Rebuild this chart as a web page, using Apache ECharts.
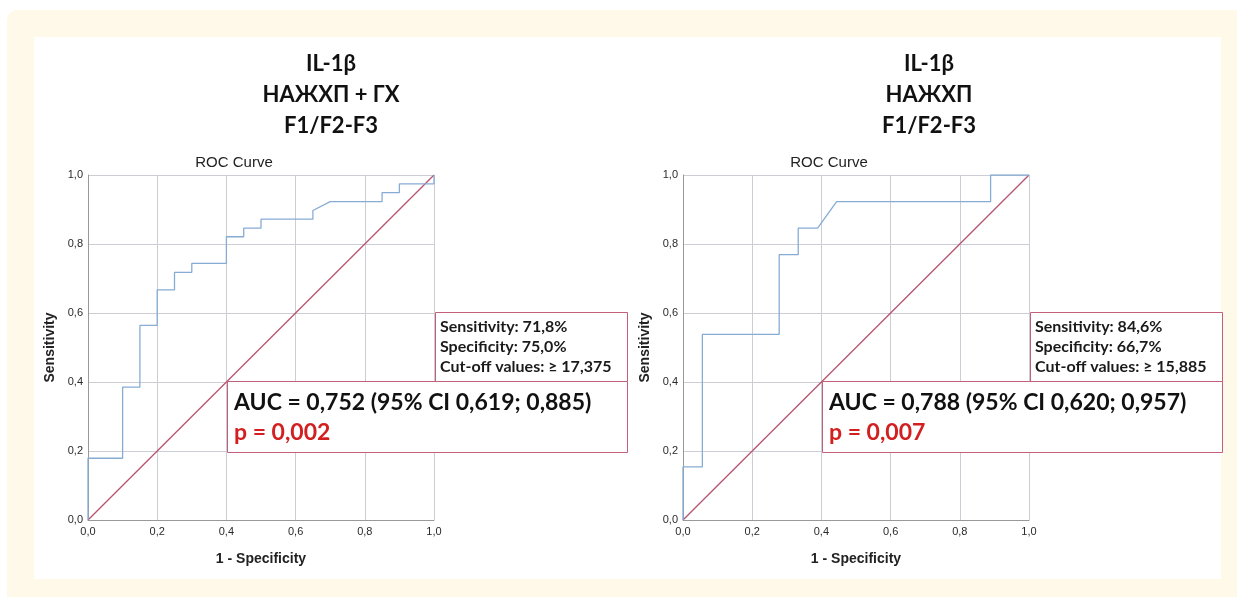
<!DOCTYPE html>
<html>
<head>
<meta charset="utf-8">
<script src="https://cdn.jsdelivr.net/npm/echarts@6/dist/echarts.min.js"></script>
<style>
html,body{margin:0;padding:0;background:#ffffff;}
#chart{width:1237px;height:597px;}
</style>
</head>
<body>
<div id="chart"></div>
<script>
// ---- data ----
const tickValues = [0, 0.2, 0.4, 0.6, 0.8, 1.0];
const leftTitle = ['IL-1β', 'НАЖХП + ГХ', 'F1/F2-F3'];
const rightTitle = ['IL-1β', 'НАЖХП', 'F1/F2-F3'];
const chartTitle = 'ROC Curve';
const xName = '1 - Specificity';
const yName = 'Sensitivity';

// Left ROC curve (1 - specificity, sensitivity)
const leftFpr = [0, 0, 0.1, 0.1, 0.15, 0.15, 0.2, 0.2, 0.25, 0.25, 0.3, 0.3, 0.4, 0.4, 0.45, 0.45, 0.5, 0.5, 0.65, 0.65, 0.7, 0.85, 0.85, 0.9, 0.9, 1.0, 1.0];
const leftTpr = [0, 0.179, 0.179, 0.385, 0.385, 0.564, 0.564, 0.667, 0.667, 0.718, 0.718, 0.744, 0.744, 0.821, 0.821, 0.846, 0.846, 0.872, 0.872, 0.897, 0.923, 0.923, 0.949, 0.949, 0.974, 0.974, 1.0];

// Right ROC curve
const rightFpr = [0, 0, 0.056, 0.056, 0.278, 0.278, 0.333, 0.333, 0.389, 0.444, 0.889, 0.889, 1.0];
const rightTpr = [0, 0.154, 0.154, 0.538, 0.538, 0.769, 0.769, 0.846, 0.846, 0.923, 0.923, 1.0, 1.0];

// Reference line
const refX = [0, 1];
const refY = [0, 1];

const leftStats = ['Sensitivity: 71,8%', 'Specificity: 75,0%', 'Cut-off values: ≥ 17,375'];
const leftAuc = 'AUC = 0,752 (95% CI 0,619; 0,885)';
const leftP = 'p = 0,002';
const rightStats = ['Sensitivity: 84,6%', 'Specificity: 66,7%', 'Cut-off values: ≥ 15,885'];
const rightAuc = 'AUC = 0,788 (95% CI 0,620; 0,957)';
const rightP = 'p = 0,007';

// ---- build ----
const zip = (xs, ys) => xs.map((x, i) => [x, ys[i]]);
const fmt = v => v.toFixed(1).replace('.', ',');

const gridColor = '#cdcdd5';
const axisColor = '#999999';
const rocColor = '#86acd4';
const refColor = '#b7546f';
const boxColor = '#c2607a';
const calibri = 'Lato, Carlito, "Noto Sans", sans-serif';
const arial = '"Liberation Sans", Arial, sans-serif';

function axisX(gi) {
  return {
    type: 'value', gridIndex: gi, min: 0, max: 1, interval: 0.2,
    name: xName, nameLocation: 'middle', nameGap: 32,
    nameTextStyle: {fontFamily: arial, fontWeight: 'bold', fontSize: 14, color: '#222'},
    axisLine: {show: true, lineStyle: {color: axisColor, width: 1}},
    axisTick: {show: false},
    axisLabel: {formatter: fmt, fontFamily: arial, fontSize: 11, color: '#2a2a2a', margin: 6},
    splitLine: {show: true, lineStyle: {color: gridColor, width: 1}}
  };
}
function axisY(gi) {
  return {
    type: 'value', gridIndex: gi, min: 0, max: 1, interval: 0.2,
    name: yName, nameLocation: 'middle', nameGap: 31,
    nameTextStyle: {fontFamily: arial, fontWeight: 'bold', fontSize: 14, color: '#222'},
    axisLine: {show: true, lineStyle: {color: axisColor, width: 1}},
    axisTick: {show: false},
    axisLabel: {formatter: fmt, fontFamily: arial, fontSize: 11, color: '#2a2a2a', margin: 5},
    splitLine: {show: true, lineStyle: {color: gridColor, width: 1}}
  };
}
function lineSeries(gi, data, color, z) {
  return {
    type: 'line', xAxisIndex: gi, yAxisIndex: gi, data: data,
    showSymbol: false, symbol: 'none', animation: false, z: z,
    lineStyle: {color: color, width: 1.3}
  };
}

function titleTexts(lines, cx) {
  return lines.map((t, i) => ({
    type: 'text', z: 50,
    style: {text: t, x: cx, y: 64 + i * 31, align: 'center', verticalAlign: 'middle',
      font: 'bold 22px ' + calibri, fill: '#111'}
  }));
}
function boxes(x0, stats, auc, p) {
  // x0 = pixel x of data 0.4 in this panel
  const sx = x0 + 208;
  const out = [];
  out.push({type: 'rect', z: 60, shape: {x: sx + 0.5, y: 312.5, width: 192, height: 69},
    style: {fill: '#fff', stroke: boxColor, lineWidth: 1}});
  stats.forEach((t, i) => out.push({type: 'text', z: 61,
    style: {text: t, x: sx + 5, y: 327 + i * 20, verticalAlign: 'middle',
      font: 'bold 16px ' + calibri, fill: '#1a1a1a'}}));
  out.push({type: 'rect', z: 60, shape: {x: x0 + 0.5, y: 381.5, width: 400, height: 71},
    style: {fill: '#fff', stroke: boxColor, lineWidth: 1}});
  out.push({type: 'text', z: 61, style: {text: auc, x: x0 + 7, y: 403, verticalAlign: 'middle',
    font: 'bold 23px ' + calibri, fill: '#111'}});
  out.push({type: 'text', z: 61, style: {text: p, x: x0 + 7, y: 433, verticalAlign: 'middle',
    font: 'bold 23px ' + calibri, fill: '#d21f1f'}});
  return out;
}

const graphics = [
  {type: 'rect', z: -10, shape: {x: 7, y: 10, width: 1250, height: 600, r: 10}, style: {fill: '#fef9e8'}},
  {type: 'rect', z: -9, shape: {x: 34, y: 37, width: 1187, height: 542}, style: {fill: '#ffffff'}},
  ...titleTexts(leftTitle, 331),
  ...titleTexts(rightTitle, 929),
  {type: 'text', z: 50, style: {text: chartTitle, x: 234, y: 163, align: 'center', verticalAlign: 'middle',
    font: '15px ' + arial, fill: '#222'}},
  {type: 'text', z: 50, style: {text: chartTitle, x: 829, y: 163, align: 'center', verticalAlign: 'middle',
    font: '15px ' + arial, fill: '#222'}},
  ...boxes(227, leftStats, leftAuc, leftP),
  ...boxes(822, rightStats, rightAuc, rightP)
];

const option = {
  backgroundColor: 'transparent',
  animation: false,
  grid: [
    {left: 88, top: 175, width: 346, height: 345, containLabel: false},
    {left: 683, top: 175, width: 346, height: 345, containLabel: false}
  ],
  xAxis: [axisX(0), axisX(1)],
  yAxis: [axisY(0), axisY(1)],
  series: [
    lineSeries(0, zip(refX, refY), refColor, 3),
    lineSeries(0, zip(leftFpr, leftTpr), rocColor, 4),
    lineSeries(1, zip(refX, refY), refColor, 3),
    lineSeries(1, zip(rightFpr, rightTpr), rocColor, 4)
  ],
  graphic: graphics
};

const chart = echarts.init(document.getElementById('chart'), null, {renderer: 'canvas'});
chart.setOption(option);
</script>
</body>
</html>
